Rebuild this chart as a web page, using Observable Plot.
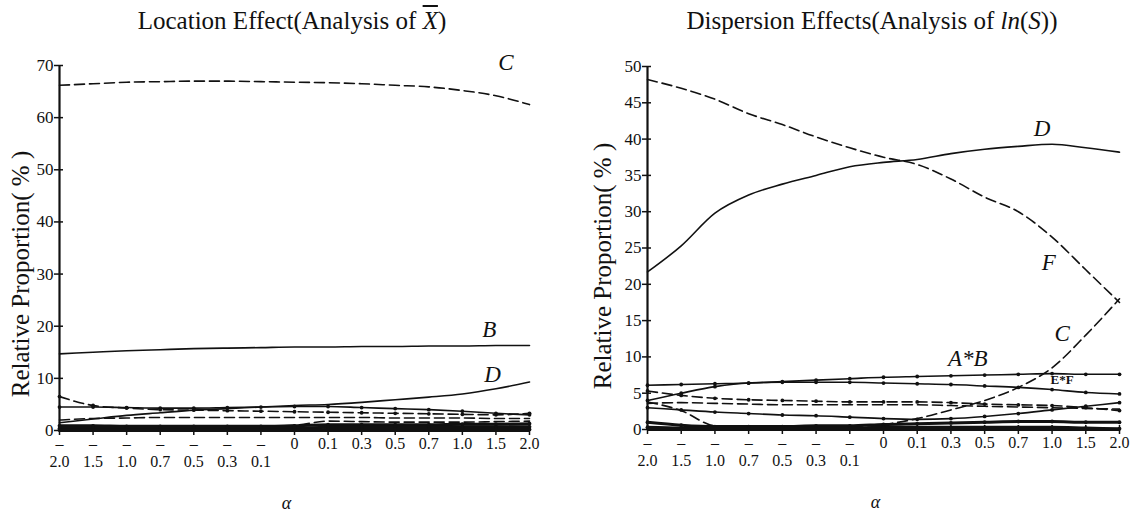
<!DOCTYPE html>
<html><head><meta charset="utf-8">
<script src="https://cdn.jsdelivr.net/npm/d3@7"></script>
<script src="https://cdn.jsdelivr.net/npm/@observablehq/plot@0.6"></script>
<style>
body{margin:0;background:#fff;font-family:"Liberation Serif",serif;color:#111;}
#wrap{position:relative;width:1141px;height:516px;overflow:hidden;}
.panel{position:absolute;top:0;height:516px;}
.title{position:absolute;top:1px;height:40px;line-height:40px;text-align:center;font-size:25px;white-space:nowrap;font-family:"Liberation Serif",serif;}
.plot{position:absolute;top:40px;left:0;}
svg text{font-family:"Liberation Serif",serif !important;}
</style></head><body>
<div id="wrap">
  <div class="panel" id="left" style="left:0;width:570px">
    <div class="plot" id="plotL"></div>
    <div class="title" style="left:62px;width:460px">Location Effect(Analysis of <i style="text-decoration:overline">X</i>)</div>
  </div>
  <div class="panel" id="right" style="left:570px;width:571px">
    <div class="plot" id="plotR"></div>
    <div class="title" style="left:52px;width:500px">Dispersion Effects(Analysis of <i>ln</i>(<i>S</i>))</div>
  </div>
</div>
<script>
// categories (alpha)
const alpha = ["-2.0","-1.5","-1.0","-0.7","-0.5","-0.3","-0.1","0","0.1","0.3","0.5","0.7","1.0","1.5","2.0"];
const yTicksL = [0,10,20,30,40,50,60,70];
const yTicksR = [0,5,10,15,20,25,30,35,40,45,50];

// Location effect (left) series, %
const locC  = [66.2,66.5,66.8,66.9,67.0,67.0,66.9,66.8,66.7,66.5,66.2,65.9,65.2,64.2,62.5];
const locB  = [14.7,15.0,15.3,15.5,15.7,15.8,15.9,16.0,16.0,16.1,16.1,16.2,16.2,16.3,16.3];
const locD  = [1.5,2.2,2.9,3.4,3.9,4.2,4.5,4.8,5.0,5.4,5.9,6.4,7.0,8.0,9.3];
const locA  = [4.5,4.5,4.4,4.3,4.3,4.4,4.5,4.6,4.6,4.4,4.2,4.0,3.7,3.3,3.0];
const locE  = [6.5,4.8,4.3,4.0,3.9,3.8,3.7,3.6,3.5,3.4,3.3,3.2,3.1,3.0,3.3];
const locF  = [2.0,2.3,2.4,2.5,2.5,2.5,2.5,2.5,2.5,2.5,2.4,2.4,2.4,2.3,2.3];
const locG  = [0.5,0.5,0.6,0.6,0.6,0.7,0.8,1.0,1.8,1.7,1.6,1.6,1.6,1.7,1.8];
const locH  = [0.9,0.9,0.8,0.8,0.8,0.8,0.8,0.9,1.1,1.1,1.1,1.1,1.2,1.2,1.3];
const locI  = [0.4,0.4,0.4,0.4,0.4,0.4,0.4,0.5,0.6,0.7,0.7,0.7,0.7,0.7,0.7];
const locJ  = [0.1,0.1,0.1,0.1,0.1,0.1,0.1,0.1,0.2,0.2,0.2,0.2,0.2,0.2,0.2];

// Dispersion effect (right) series, %
const disF  = [48.2,47.0,45.5,43.5,42.0,40.3,38.8,37.5,36.5,34.5,32.0,30.0,26.5,22.0,17.5];
const disD  = [21.7,25.3,29.8,32.3,33.8,35.0,36.2,36.8,37.2,38.0,38.6,39.0,39.3,38.8,38.2];
const disC  = [3.8,2.6,0.5,0.3,0.3,0.3,0.4,0.7,1.5,2.7,4.0,5.8,8.5,13.0,18.0];
const disAB = [6.1,6.2,6.3,6.4,6.6,6.8,7.0,7.2,7.3,7.4,7.5,7.6,7.7,7.6,7.6];
const disEF = [4.0,5.0,5.9,6.4,6.5,6.5,6.5,6.4,6.3,6.2,6.0,5.8,5.5,5.1,4.9];
const disK  = [5.3,4.7,4.3,4.1,4.0,3.9,3.8,3.8,3.8,3.7,3.5,3.4,3.3,3.0,2.6];
const disL  = [3.6,3.7,3.6,3.5,3.4,3.4,3.4,3.4,3.4,3.3,3.2,3.1,3.0,2.9,2.8];
const disM  = [3.0,2.7,2.4,2.2,2.0,1.9,1.7,1.5,1.4,1.5,1.8,2.2,2.7,3.2,3.7];
const disN  = [1.0,0.6,0.4,0.4,0.4,0.5,0.5,0.7,0.8,0.9,1.0,1.1,1.1,1.0,1.0];
const disO  = [0.3,0.2,0.2,0.2,0.2,0.2,0.2,0.3,0.3,0.3,0.3,0.3,0.3,0.2,0.1];

// series descriptors: [values, dashed?, dots?, heavy?]
const leftSeries = [
  [locC,true,false,false],[locB,false,false,false],[locD,false,false,false],
  [locA,false,true,false],[locE,true,true,false],[locF,true,false,false],
  [locG,true,false,false],[locH,false,true,true],[locI,false,true,true],[locJ,false,true,true]
];
const rightSeries = [
  [disF,true,false,false],[disD,false,false,false],[disC,true,false,false],
  [disAB,false,true,false],[disEF,false,true,false],[disK,true,true,false],
  [disL,true,false,false],[disM,false,true,false],[disN,false,true,true],[disO,false,true,true]
];
// curve labels: [text, category, offset (in categories), value, italic]
const leftLabels  = [["C","1.5",0.3,70.5,true],["B","1.0",0.8,19.3,true],["D","1.0",0.9,10.7,true]];
const rightLabels = [["D","0.7",0.7,41.5,true],["F","0.7",0.9,23.0,true],["C","1.0",0.3,13.2,true],
                     ["A*B","0.3",0.5,9.8,true],["E*F","1.0",0.3,6.9,false]];

function fmtTick(i){ const s = alpha[i]; return s.startsWith("-") ? "\u2013\n" + s.slice(1) : s; }

function makePanel(series, labels, yDomain, yTicks, geom){
  const rows = [];
  series.forEach((s, k) => s[0].forEach((v, i) => rows.push({k, i, v})));
  const marks = [];
  series.forEach((s, k) => {
    const d = rows.filter(r => r.k === k);
    marks.push(Plot.line(d, {x: "i", y: "v", stroke: "#111", strokeWidth: s[3] ? 3 : 1.6,
      strokeDasharray: s[1] ? "10,5" : null, curve: "monotone-x"}));
    if (s[2]) marks.push(Plot.dot(d, {x: "i", y: "v", r: 1.9, fill: "#111"}));
  });
  const lab = labels.map(l => ({t: l[0], i: alpha.indexOf(l[1]) + l[2], v: l[3], it: l[4]}));
  const font = "Liberation Serif, serif";
  return Plot.plot({
    width: geom.width, height: 476,
    marginLeft: geom.ml, marginRight: geom.mr, marginTop: geom.mt, marginBottom: geom.mb,
    x: {type: "linear", domain: [0, 14]},
    y: {domain: yDomain},
    style: {fontFamily: font, fontSize: "17px", color: "#111", background: "white", overflow: "visible"},
    marks: [
      Plot.axisY({ticks: yTicks, tickSize: 5, tickPadding: 1, label: null, fontSize: 17, strokeWidth: 1.5}),
      Plot.axisY({ticks: yTicks, tickSize: 4, dx: 4, text: null, label: null, strokeWidth: 1.5}),
      Plot.axisX({ticks: d3.range(alpha.length), tickFormat: fmtTick, tickSize: 5, tickPadding: 1,
        label: null, fontSize: 16, lineHeight: 1.12, strokeWidth: 1.5}),
      Plot.axisX({ticks: d3.range(alpha.length), tickSize: 4, dy: -4, text: null, label: null, strokeWidth: 1.5}),
      ...marks,
      Plot.ruleX([0], {stroke: "#111", strokeWidth: 2.2}),
      Plot.ruleY([0], {stroke: "#111", strokeWidth: 3}),
      Plot.text(lab.filter(d => d.it), {x: "i", y: "v", text: "t", fontSize: 23, fontStyle: "italic", fill: "#111"}),
      Plot.text(lab.filter(d => !d.it), {x: "i", y: "v", text: "t", fontSize: 13, fontWeight: "bold", fill: "#111"}),
      Plot.text(["Relative Proportion( % )"], {frameAnchor: "left", textAnchor: "middle", rotate: -90,
        dx: geom.ylx, dy: geom.yly, fontSize: 25, fill: "#111", letterSpacing: "1px"}),
      Plot.text(["\u03b1"], {frameAnchor: "bottom", dx: geom.ax, dy: 78, fontSize: 18, fontStyle: "italic", fill: "#111"})
    ]
  });
}

document.getElementById("plotL").append(
  makePanel(leftSeries, leftLabels, [0, 70], yTicksL,
    {width: 570, ml: 59, mr: 41, mt: 25, mb: 86, ylx: -39, yly: 26, ax: -8}));
document.getElementById("plotR").append(
  makePanel(rightSeries, rightLabels, [0, 50], yTicksR,
    {width: 571, ml: 77, mr: 22, mt: 26, mb: 87, ylx: -45, yly: 18, ax: -8}));
</script>
</body></html>
